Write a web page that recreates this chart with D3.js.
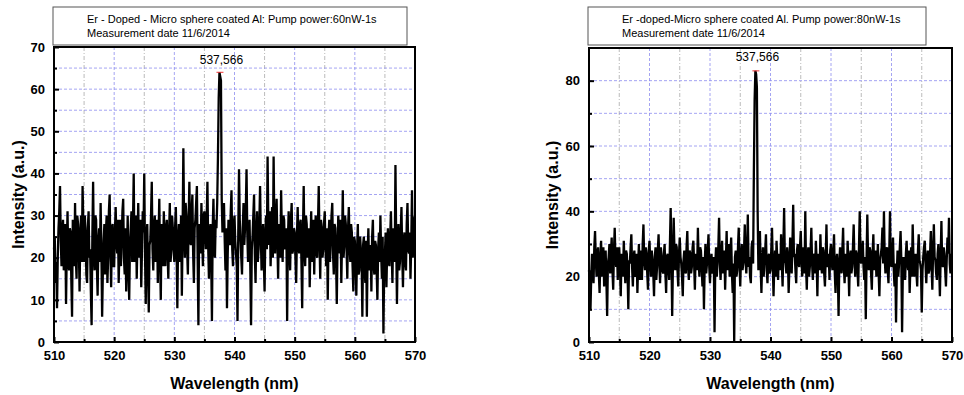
<!DOCTYPE html>
<html>
<head>
<meta charset="utf-8">
<script src="https://cdn.jsdelivr.net/npm/d3@7"></script>
<style>
  body { margin: 0; background: #fff; }
  svg { display: block; font-family: Arial, "Liberation Sans", sans-serif; }
</style>
</head>
<body>
<script>
// wavelength sampling (nm)
let wlStart = 510, wlEnd = 570, wlStep = 0.125;
let xTicks = [510, 520, 530, 540, 550, 560, 570];

// panel 1: 60nW pump
let titleLeft = ['Er - Doped - Micro sphere coated Al: Pump power:60nW-1s', 'Measurement date 11/6/2014'];
let peakLeft = { wl: 537.5, label: '537,566', value: 64 };
let yTicksLeft = [0, 10, 20, 30, 40, 50, 60, 70];
let intensityLeft = [
  22,25,14,19,8,20,27,31,37,24,18,26,29,17,21,28,9,22,31,19,17,27,26,15,6,29,24,18,33,20,15,30,28,23,12,26,30,19,37,28,
  19,30,26,16,14,27,31,20,22,12,4,25,38,21,17,30,29,18,11,24,27,19,33,22,6,17,24,28,16,26,30,14,20,31,35,21,13,27,28,18,
  18,26,32,24,21,29,14,22,29,18,24,31,34,20,16,27,12,21,30,17,10,23,27,31,19,28,40,19,22,30,15,24,33,20,25,29,13,22,31,26,
  40,21,9,25,28,17,7,23,24,30,38,22,17,27,30,19,21,29,14,25,34,20,10,28,26,18,31,24,18,27,29,21,15,26,33,19,22,30,27,22,
  19,27,32,22,8,24,28,19,24,30,11,26,46,28,20,33,30,22,16,29,38,24,23,31,35,21,14,27,29,33,37,20,4,28,26,21,33,25,18,30,
  31,25,22,29,38,23,15,26,28,20,5,27,34,22,20,29,27,33,44,58,64,63,62,34,26,30,33,24,17,27,8,21,29,25,23,31,36,22,18,28,
  30,24,21,18,5,26,41,29,24,20,16,27,33,23,27,31,41,26,19,24,29,18,4,22,25,30,35,21,14,26,31,19,22,28,37,25,17,23,28,19,
  12,26,30,22,44,28,23,31,18,25,32,20,44,27,21,29,34,24,15,28,27,20,36,25,19,30,29,22,24,27,5,24,31,23,17,29,33,21,22,27,
  26,20,14,25,32,23,21,28,29,19,8,26,37,22,18,30,28,20,23,27,13,24,31,19,25,29,16,26,30,21,20,28,37,24,15,29,27,20,22,28,
  31,22,18,27,10,25,29,19,24,30,33,21,16,28,27,20,9,23,30,26,21,29,14,24,36,20,23,30,28,22,15,27,32,23,19,28,26,18,12,25,
  24,18,11,22,28,16,17,25,22,20,6,23,25,17,14,24,6,21,27,17,19,23,12,25,29,18,16,24,23,17,10,22,26,19,30,21,15,25,2,18,
  21,26,13,22,27,19,18,25,31,21,14,27,24,19,42,24,9,22,28,17,19,26,32,21,13,24,26,19,17,28,33,22,21,26,15,23,36,20,24,29,
  30
];

// panel 2: 80nW pump
let titleRight = ['Er -doped-Micro sphere coated Al. Pump power:80nW-1s', 'Measurement date 11/6/2014'];
let peakRight = { wl: 537.5, label: '537,566', value: 83 };
let yTicksRight = [0, 20, 40, 60, 80];
let intensityRight = [
  22,18,10,21,27,23,18,29,34,25,20,27,29,21,15,26,31,20,24,29,17,22,28,19,8,24,26,30,21,27,32,22,16,28,35,25,23,29,19,26,
  29,22,14,27,26,20,31,24,18,28,27,21,10,25,24,29,33,23,17,26,28,20,21,27,15,24,30,19,23,28,19,30,36,25,22,29,27,21,16,28,
  31,24,20,28,25,21,14,26,29,19,23,28,33,24,18,29,26,22,21,27,30,21,15,26,27,23,19,30,41,26,8,24,38,28,22,30,29,22,17,27,
  32,26,24,20,14,25,28,22,21,29,34,23,19,28,27,21,23,29,31,24,16,27,26,22,35,25,20,29,28,23,17,26,10,24,30,21,24,28,33,23,
  18,25,27,21,22,26,3,24,29,20,25,29,38,24,19,27,31,21,23,28,16,25,34,22,26,30,20,27,32,21,15,24,0,26,28,20,22,29,35,24,
  17,26,30,22,24,28,36,25,21,27,39,23,26,20,18,29,31,24,52,74,83,82,78,40,22,27,34,23,15,25,29,20,25,28,33,22,18,26,27,21,
  22,28,35,24,14,23,28,20,31,25,19,27,26,22,33,24,17,29,41,25,24,21,29,26,15,23,32,27,21,30,42,26,27,22,18,28,30,24,23,29,
  34,25,20,29,26,21,40,23,16,26,29,20,23,28,35,24,19,26,27,21,31,25,14,27,25,22,33,24,21,29,28,21,17,26,36,23,24,27,19,28,
  30,24,22,27,33,21,15,25,27,22,8,24,29,26,21,28,35,23,18,27,26,20,31,24,14,26,28,21,23,29,36,25,20,28,27,22,17,29,40,25,
  24,27,31,23,19,26,7,25,39,26,22,29,28,21,16,27,33,22,25,28,20,24,30,21,14,25,27,29,35,24,40,26,21,28,29,22,18,27,40,24,
  23,27,32,22,17,24,6,21,28,20,24,29,34,25,3,22,26,21,19,27,31,24,22,28,15,23,29,20,36,26,20,24,27,21,17,28,33,25,24,22,
  9,22,26,29,31,24,18,25,28,21,22,27,34,23,16,28,36,26,25,21,19,27,30,23,14,26,37,24,23,29,27,22,17,25,32,27,38,24,21,26,
  27
];

let wavelengths = d3.range(0, intensityLeft.length).map(i => wlStart + i * wlStep);

let svg = d3.select('body').append('svg').attr('width', 964).attr('height', 395);

function drawPanel(cfg) {
  let x = d3.scaleLinear().domain([wlStart, wlEnd]).range([cfg.left, cfg.right]);
  let y = d3.scaleLinear().domain([0, cfg.yMax]).range([cfg.bottom, cfg.top]);
  let g = svg.append('g');

  // title box
  g.append('rect')
    .attr('x', cfg.box[0]).attr('y', 7)
    .attr('width', cfg.box[1] - cfg.box[0]).attr('height', 38)
    .attr('fill', '#fff').attr('stroke', '#555').attr('stroke-width', 1);
  g.selectAll('.ttl').data(cfg.title).enter().append('text')
    .attr('x', cfg.box[0] + 34)
    .attr('y', (d, i) => 23 + i * 14)
    .attr('font-size', 11)
    .text(d => d);

  // grid
  let vLines = d3.range(wlStart + 5, wlEnd, 5);
  g.selectAll('.vg').data(vLines).enter().append('line')
    .attr('x1', d => x(d)).attr('x2', d => x(d))
    .attr('y1', cfg.top).attr('y2', cfg.bottom)
    .attr('stroke', d => d % 10 === 0 ? '#8d8def' : '#aaa')
    .attr('stroke-width', 0.8)
    .attr('stroke-dasharray', d => d % 10 === 0 ? '3,2' : '4,2,1,2');
  let hLines = d3.range(cfg.yMinor, cfg.yMax, cfg.yMinor);
  g.selectAll('.hg').data(hLines).enter().append('line')
    .attr('x1', cfg.left).attr('x2', cfg.right)
    .attr('y1', d => y(d)).attr('y2', d => y(d))
    .attr('stroke', '#8d8def').attr('stroke-width', 0.8)
    .attr('stroke-dasharray', '3,2');

  // spectrum
  let line = d3.line().x((d, i) => x(wavelengths[i])).y(d => y(d));
  g.append('path').datum(cfg.data)
    .attr('d', line)
    .attr('fill', 'none').attr('stroke', '#000')
    .attr('stroke-width', 2.3).attr('stroke-linejoin', 'miter');

  // red mark at peak top
  g.append('line')
    .attr('x1', x(cfg.peak.wl) - 3).attr('x2', x(cfg.peak.wl) + 4)
    .attr('y1', y(cfg.peak.value)).attr('y2', y(cfg.peak.value))
    .attr('stroke', '#e33').attr('stroke-width', 1);
  g.append('text')
    .attr('x', x(cfg.peak.wl) + 2).attr('y', cfg.peakLabelY)
    .attr('text-anchor', 'middle').attr('font-size', 12)
    .text(cfg.peak.label);

  // axes, ticks inward
  let xAxis = g.append('g').attr('transform', `translate(0,${cfg.bottom})`)
    .call(d3.axisBottom(x).tickValues(xTicks).tickSize(-5).tickPadding(9).tickFormat(d3.format('d')));
  let xMinor = g.append('g').attr('transform', `translate(0,${cfg.bottom})`)
    .call(d3.axisBottom(x).tickValues(d3.range(wlStart + 5, wlEnd, 10)).tickSize(-3).tickFormat(''));
  let yAxis = g.append('g').attr('transform', `translate(${cfg.left},0)`)
    .call(d3.axisLeft(y).tickValues(cfg.yTicks).tickSize(-5).tickPadding(9).tickFormat(d3.format('d')));
  let yMinor = g.append('g').attr('transform', `translate(${cfg.left},0)`)
    .call(d3.axisLeft(y).tickValues(d3.range(cfg.yTicks[1] / 2, cfg.yMax, cfg.yTicks[1])).tickSize(-3).tickFormat(''));
  [xAxis, xMinor, yAxis, yMinor].forEach(a => {
    a.select('.domain').remove();
    a.selectAll('line').attr('stroke', '#000').attr('stroke-width', 2);
    a.selectAll('text').attr('font-size', 13).attr('font-weight', 'bold')
      .attr('font-family', 'Arial, "Liberation Sans", sans-serif').attr('fill', '#000');
  });

  // frame
  g.append('rect')
    .attr('x', cfg.left).attr('y', cfg.top)
    .attr('width', cfg.right - cfg.left).attr('height', cfg.bottom - cfg.top)
    .attr('fill', 'none').attr('stroke', '#000').attr('stroke-width', 2);

  // axis titles
  g.append('text')
    .attr('x', (cfg.left + cfg.right) / 2).attr('y', 389)
    .attr('text-anchor', 'middle').attr('font-size', 16).attr('font-weight', 'bold')
    .text('Wavelength (nm)');
  g.append('text')
    .attr('transform', `translate(${cfg.yTitleX},${(cfg.top + cfg.bottom) / 2}) rotate(-90)`)
    .attr('text-anchor', 'middle').attr('font-size', 16).attr('font-weight', 'bold')
    .text('Intensity (a.u.)');
}

drawPanel({
  left: 54, right: 415, top: 47, bottom: 342, yMax: 70, yMinor: 5,
  yTicks: yTicksLeft, data: intensityLeft, title: titleLeft, peak: peakLeft,
  box: [53, 407], peakLabelY: 64, yTitleX: 24
});
drawPanel({
  left: 589, right: 952, top: 48, bottom: 342, yMax: 90, yMinor: 10,
  yTicks: yTicksRight, data: intensityRight, title: titleRight, peak: peakRight,
  box: [588, 926], peakLabelY: 61, yTitleX: 558
});
</script>
</body>
</html>
